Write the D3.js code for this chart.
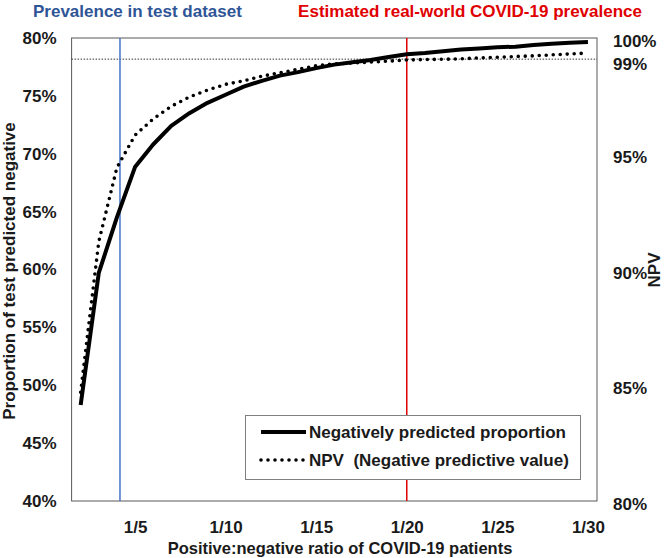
<!DOCTYPE html>
<html>
<head>
<meta charset="utf-8">
<script src="https://cdn.jsdelivr.net/npm/d3@7"></script>
<style>
  body { margin: 0; background: #fff; }
  text { font-family: "Liberation Sans", Arial, sans-serif; font-weight: bold; }
</style>
</head>
<body>
<div id="playground"></div>
<script>
// positive:negative ratio denominators (1/2 ... 1/30)
var ratios = [2,3,4,5,6,7,8,9,10,11,12,13,14,15,16,17,18,19,20,21,22,23,24,25,26,27,28,29,30];
// proportion of test predicted negative (%), left axis
var negProportion = [48.3,59.7,64.5,68.85,70.8,72.4,73.5,74.4,75.1,75.8,76.3,76.75,77.05,77.4,77.7,77.9,78.1,78.35,78.6,78.7,78.85,79.0,79.1,79.2,79.25,79.4,79.5,79.6,79.65];
// NPV (%), right axis
var npv = [84.7,91.2,94.4,95.8,96.5,97.05,97.45,97.75,98.0,98.15,98.35,98.5,98.65,98.8,98.88,98.92,98.96,99.0,99.05,99.07,99.08,99.1,99.14,99.17,99.2,99.23,99.27,99.31,99.35];

var xTicks = [5,10,15,20,25,30];
var leftTicks = [40,45,50,55,60,65,70,75,80];
var rightTicks = [80,85,90,95,99,100];

var testPrevalence = 4.17;   // blue marker
var realPrevalence = 20;     // red marker
var npvRef = 99;             // dotted reference line

var margin = {top: 38, right: 69, bottom: 57, left: 71.6},
width = 666 - margin.left - margin.right,
height = 558 - margin.top - margin.bottom;

var textColor = "#1a1a1a";

function draw() {
  const svg = d3.select("#playground")
    .append("svg")
    .attr("width", 666)
    .attr("height", 558)

  const g = svg.append("g")
    .attr("transform", "translate(" + margin.left + "," + margin.top + ")")

  var x = d3.scaleLinear()
    .domain([1.5, 30.5])
    .range([0, width]);

  var yLeft = d3.scaleLinear()
    .domain([40, 80])
    .range([height, 0]);

  var yRight = d3.scaleLinear()
    .domain([80, 100])
    .range([height, 0]);

  // plot frame
  g.append("rect")
    .attr("x", 0)
    .attr("y", 0)
    .attr("width", width)
    .attr("height", height)
    .attr("fill", "none")
    .attr("stroke", "#595959")
    .attr("stroke-width", 1)

  // 99% reference
  g.append("line")
    .attr("x1", 0)
    .attr("x2", width)
    .attr("y1", yRight(npvRef) - 2)
    .attr("y2", yRight(npvRef) - 2)
    .attr("stroke", "#333")
    .attr("stroke-width", 1)
    .attr("stroke-dasharray", "1.5 1.5")

  // prevalence markers
  g.append("line")
    .attr("x1", x(testPrevalence)).attr("x2", x(testPrevalence))
    .attr("y1", 0).attr("y2", height)
    .attr("stroke", "#4472C4")
    .attr("stroke-width", 1.5)
  g.append("line")
    .attr("x1", x(realPrevalence)).attr("x2", x(realPrevalence))
    .attr("y1", 0).attr("y2", height)
    .attr("stroke", "#E00000")
    .attr("stroke-width", 1.5)

  // axes
  var axisX = g.append("g")
    .attr("transform", "translate(0," + height + ")")
    .call(d3.axisBottom(x).tickValues(xTicks).tickSize(0).tickPadding(20).tickFormat(d => "1/" + d))
  var axisL = g.append("g")
    .call(d3.axisLeft(yLeft).tickValues(leftTicks).tickSize(0).tickPadding(15).tickFormat(d => d + "%"))
  var axisR = g.append("g")
    .attr("transform", "translate(" + width + ",0)")
    .call(d3.axisRight(yRight).tickValues(rightTicks).tickSize(0).tickPadding(16).tickFormat(d => d + "%"))

  ;[axisX, axisL, axisR].forEach(function(a) {
    a.select(".domain").remove()
    a.selectAll("text")
      .attr("fill", textColor)
      .style("font-size", "17px")
      .style("font-family", "Liberation Sans, Arial, sans-serif")
      .style("font-weight", "bold")
  })
  axisR.selectAll("text").attr("dy", "0.5em")

  // series
  var solidLine = d3.line()
    .x((d, i) => x(ratios[i]))
    .y(d => yLeft(d))
  var npvLine = d3.line()
    .x((d, i) => x(ratios[i]))
    .y(d => yRight(d))

  g.append("path")
    .datum(negProportion)
    .attr("d", solidLine)
    .attr("fill", "none")
    .attr("stroke", "#000")
    .attr("stroke-width", 4)
    .attr("stroke-linejoin", "round")

  g.append("path")
    .datum(npv)
    .attr("d", npvLine)
    .attr("fill", "none")
    .attr("stroke", "#000")
    .attr("stroke-width", 3.6)
    .attr("stroke-linecap", "round")
    .attr("stroke-dasharray", "0 7")

  // titles
  svg.append("text")
    .attr("x", 33)
    .attr("y", 17)
    .attr("fill", "#2F5597")
    .style("font-size", "17px")
    .text("Prevalence in test dataset")
  svg.append("text")
    .attr("x", 642)
    .attr("y", 17)
    .attr("text-anchor", "end")
    .attr("fill", "#E00000")
    .style("font-size", "17px")
    .text("Estimated real-world COVID-19 prevalence")

  svg.append("text")
    .attr("x", 340)
    .attr("y", 554)
    .attr("text-anchor", "middle")
    .attr("fill", textColor)
    .style("font-size", "16.5px")
    .text("Positive:negative ratio of COVID-19 patients")

  svg.append("text")
    .attr("transform", "translate(15,271)rotate(-90)")
    .attr("text-anchor", "middle")
    .attr("fill", textColor)
    .style("font-size", "17px")
    .text("Proportion of test predicted negative")

  svg.append("text")
    .attr("transform", "translate(660,270)rotate(-90)")
    .attr("text-anchor", "middle")
    .attr("fill", textColor)
    .style("font-size", "17px")
    .text("NPV")

  // legend
  var legend = svg.append("g")
  legend.append("rect")
    .attr("x", 245.5)
    .attr("y", 415.5)
    .attr("width", 335)
    .attr("height", 64)
    .attr("fill", "#fff")
    .attr("stroke", "#7f7f7f")
    .attr("stroke-width", 1)

  var items = [
    {label: "Negatively predicted proportion", dash: null, w: 4},
    {label: "NPV\u00a0 (Negative predictive value)", dash: "0 7", w: 3.6}
  ]
  items.forEach(function(it, i) {
    var yy = 432 + i * 28
    legend.append("line")
      .attr("x1", 261).attr("x2", 306)
      .attr("y1", yy).attr("y2", yy)
      .attr("stroke", "#000")
      .attr("stroke-width", it.w)
      .attr("stroke-linecap", it.dash ? "round" : "butt")
      .attr("stroke-dasharray", it.dash)
    legend.append("text")
      .attr("x", 309)
      .attr("y", yy + 6)
      .attr("fill", textColor)
      .style("font-size", "17px")
      .text(it.label)
  })
}

draw();
</script>
</body>
</html>
